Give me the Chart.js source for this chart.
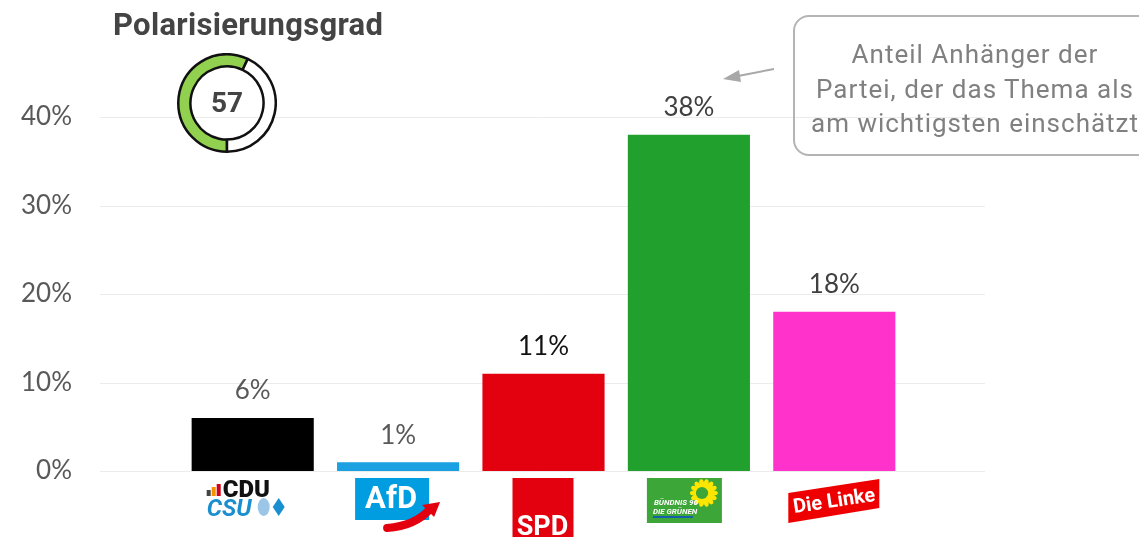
<!DOCTYPE html>
<html>
<head>
<meta charset="utf-8">
<script src="https://cdn.jsdelivr.net/npm/chart.js@4.4.1/dist/chart.umd.min.js"></script>
<style>
  html, body { margin: 0; padding: 0; background: #fff; overflow: hidden; }
  #wrap { position: relative; width: 1139px; height: 537px; }
  #chart { position: absolute; left: 0; top: 0; }
  #title { position: absolute; left: 113px; top: 6px; font: bold 31px Roboto, sans-serif; color: #444; letter-spacing: 0.3px; }
  #gauge { position: absolute; left: 177px; top: 53px; }
  #gaugeVal { position: absolute; left: 177px; top: 53px; width: 100px; height: 100px; text-align: center; font: bold 28px Roboto, sans-serif; line-height: 100px; color: #444; }
  #note { position: absolute; left: 793px; top: 15px; width: 364px; height: 141px; border: 2px solid #b4b4b4; border-radius: 16px; box-sizing: border-box;
          text-align: center; font: 26px Roboto, sans-serif; letter-spacing: 1px; color: #808080; line-height: 34.5px; padding-top: 20px; white-space: nowrap; }
  #arrow { position: absolute; left: 0; top: 0; }
</style>
</head>
<body>
<div id="wrap">
  <canvas id="chart" width="1139" height="537"></canvas>
  <div id="title">Polarisierungsgrad</div>
  <canvas id="gauge" width="100" height="100"></canvas>
  <div id="gaugeVal"></div>
  <div id="note">Anteil Anhänger der<br>Partei, der das Thema als<br>am wichtigsten einschätzt</div>
  <svg id="arrow" width="1139" height="537">
    <line x1="774" y1="69" x2="738" y2="76" stroke="#a8a8a8" stroke-width="2"/>
    <polygon points="723,79 739,70 741,82" fill="#a8a8a8"/>
  </svg>
</div>
<script>
// data
const parties = ["CDU/CSU", "AfD", "SPD", "Grüne", "Die Linke"];
const shares = [6, 1, 11, 38, 18];
const barColors = ["#000000", "#1ba1e2", "#e3000f", "#21a02e", "#ff33cc"];
const labelColors = ["#595959", "#595959", "#111111", "#404040", "#404040"];
const yTicks = [0, 10, 20, 30, 40];
const polarisation = 57;

// --- party logos, drawn under each bar ---
function logoCdu(ctx, cx) {
  const x = cx - 46;
  ctx.fillStyle = "#444"; ctx.fillRect(x, 490, 4, 6);
  ctx.fillStyle = "#f39200"; ctx.fillRect(x + 5, 487, 4, 9);
  ctx.fillStyle = "#d0021b"; ctx.fillRect(x + 10, 484, 4, 12);
  ctx.fillStyle = "#111";
  ctx.font = "900 24px Roboto, sans-serif";
  ctx.textAlign = "left"; ctx.textBaseline = "alphabetic";
  ctx.fillText("CDU", x + 16, 497);
  ctx.fillStyle = "#1a8fd0";
  ctx.font = "italic bold 24px Roboto, sans-serif";
  ctx.fillText("CSU", x, 516);
  ctx.fillStyle = "#9cc6e8";
  ctx.beginPath(); ctx.ellipse(x + 57, 507, 6, 9, 0, 0, Math.PI * 2); ctx.fill();
  ctx.fillStyle = "#1a8fd0";
  ctx.beginPath(); ctx.moveTo(x + 72, 498); ctx.lineTo(x + 78, 507); ctx.lineTo(x + 72, 516); ctx.lineTo(x + 66, 507); ctx.closePath(); ctx.fill();
}
function logoAfd(ctx, cx) {
  const x = cx - 43;
  ctx.fillStyle = "#009ee0"; ctx.fillRect(x, 478, 74, 42);
  ctx.fillStyle = "#fff"; ctx.font = "bold 31px Roboto, sans-serif";
  ctx.textAlign = "center"; ctx.textBaseline = "middle";
  ctx.fillText("AfD", x + 36, 500);
  ctx.strokeStyle = "#e3000f"; ctx.lineWidth = 8; ctx.lineCap = "round";
  ctx.beginPath(); ctx.moveTo(x + 32, 528); ctx.quadraticCurveTo(x + 60, 526, x + 75, 509); ctx.stroke();
  ctx.fillStyle = "#e3000f";
  ctx.beginPath(); ctx.moveTo(x + 85, 502); ctx.lineTo(x + 67, 505); ctx.lineTo(x + 79, 517); ctx.closePath(); ctx.fill();
}
function logoSpd(ctx, cx) {
  const x = cx - 31;
  ctx.fillStyle = "#e3000f"; ctx.fillRect(x, 478, 61, 62);
  ctx.fillStyle = "#fff"; ctx.font = "bold 27px Roboto, sans-serif";
  ctx.textAlign = "center"; ctx.textBaseline = "alphabetic";
  ctx.fillText("SPD", x + 30, 535);
}
function logoGruene(ctx, cx) {
  const x = cx - 42;
  ctx.fillStyle = "#3da638"; ctx.fillRect(x, 478, 75, 45);
  ctx.fillStyle = "#ffe600";
  for (let i = 0; i < 14; i++) {
    const a = i / 14 * Math.PI * 2;
    ctx.beginPath(); ctx.ellipse(x + 57 + Math.cos(a) * 9, 493 + Math.sin(a) * 9, 5, 2.5, a, 0, Math.PI * 2); ctx.fill();
  }
  ctx.fillStyle = "#3da638";
  ctx.beginPath(); ctx.arc(x + 55, 493, 6, 0, Math.PI * 2); ctx.fill();
  ctx.fillStyle = "#fff"; ctx.font = "italic bold 8px Roboto, sans-serif";
  ctx.textAlign = "left"; ctx.textBaseline = "alphabetic";
  ctx.fillText("BÜNDNIS 90", x + 7, 505);
  ctx.fillText("DIE GRÜNEN", x + 6, 514);
  ctx.fillStyle = "#1560a8"; ctx.fillRect(x + 6, 516, 40, 2);
}
function logoLinke(ctx, cx) {
  const x = cx - 46;
  ctx.fillStyle = "#ee0000";
  ctx.beginPath(); ctx.moveTo(x, 493); ctx.lineTo(x + 91, 479); ctx.lineTo(x + 91, 508); ctx.lineTo(x, 523); ctx.closePath(); ctx.fill();
  ctx.save();
  ctx.translate(x + 46, 502); ctx.rotate(-0.15);
  ctx.fillStyle = "#fff"; ctx.font = "bold 20px Roboto, sans-serif";
  ctx.textAlign = "center"; ctx.textBaseline = "middle";
  ctx.fillText("Die Linke", 0, 0);
  ctx.restore();
}
const logoFns = [logoCdu, logoAfd, logoSpd, logoGruene, logoLinke];

const extras = {
  id: "extras",
  beforeDatasetsDraw(chart) {
    const { ctx, scales: { y } } = chart;
    ctx.save();
    ctx.strokeStyle = "#ececec"; ctx.lineWidth = 1;
    yTicks.forEach(t => {
      const py = Math.round(y.getPixelForValue(t)) + 0.5;
      ctx.beginPath(); ctx.moveTo(100, py); ctx.lineTo(985, py); ctx.stroke();
    });
    ctx.restore();
  },
  afterDatasetsDraw(chart) {
    const { ctx, scales: { x } } = chart;
    const meta = chart.getDatasetMeta(0);
    ctx.save();
    ctx.font = "26px Lato, sans-serif";
    ctx.textAlign = "center"; ctx.textBaseline = "middle";
    meta.data.forEach((bar, i) => {
      ctx.fillStyle = labelColors[i];
      ctx.fillText(shares[i] + "%", bar.x, bar.y - 27);
    });
    parties.forEach((p, i) => logoFns[i](ctx, x.getPixelForValue(i)));
    ctx.restore();
  }
};

new Chart(document.getElementById("chart").getContext("2d"), {
  type: "bar",
  data: {
    labels: parties,
    datasets: [{ data: shares, backgroundColor: barColors, barPercentage: 0.84, categoryPercentage: 1 }],
  },
  options: {
    responsive: false, animation: false,
    layout: { padding: { left: 0, right: 232, top: 117, bottom: 66 } },
    plugins: { legend: { display: false }, tooltip: { enabled: false } },
    scales: {
      x: { display: false },
      y: {
        min: 0, max: 40,
        afterFit(scale) { scale.width = 180; scale.paddingTop = 0; scale.paddingBottom = 0; },
        afterBuildTicks(scale) { scale.ticks = yTicks.map(v => ({ value: v })); },
        grid: { display: false, drawTicks: false }, border: { display: false },
        ticks: { padding: 108, color: "#595959", font: { family: "Lato", size: 26 }, callback: v => v + "%" },
      },
    },
  },
  plugins: [extras],
});

// gauge
document.getElementById("gaugeVal").textContent = polarisation;
new Chart(document.getElementById("gauge").getContext("2d"), {
  type: "doughnut",
  data: { datasets: [{ data: [polarisation, 100 - polarisation], backgroundColor: ["#92d050", "#ffffff"], borderColor: "#111", borderWidth: 2.5 }] },
  options: {
    responsive: false, animation: false, rotation: 180, cutout: "75%",
    plugins: { legend: { display: false }, tooltip: { enabled: false } },
  },
});
</script>
</body>
</html>
